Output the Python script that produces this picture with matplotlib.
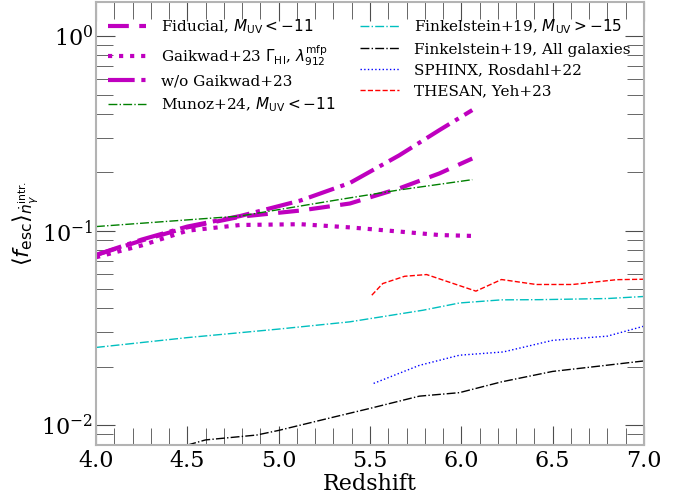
import numpy as np
import matplotlib
matplotlib.use('Agg')
import matplotlib.pyplot as plt

plt.rcParams['font.family'] = 'serif'
plt.rcParams['font.serif'] = ['DejaVu Serif']
plt.rcParams['mathtext.fontset'] = 'dejavusans'

# model curves
z_model = [4.0, 4.25, 4.5, 4.79, 5.12, 5.39, 5.66, 5.88, 6.06]
fid = [0.075, 0.089, 0.104, 0.118, 0.127, 0.138, 0.165, 0.197, 0.235]
gaik = [0.073, 0.084, 0.100, 0.107, 0.108, 0.104, 0.099, 0.095, 0.094]
wo_gaik = [0.075, 0.090, 0.105, 0.119, 0.143, 0.176, 0.244, 0.329, 0.417]

z_munoz = [4.0, 4.79, 5.34, 5.66, 6.06]
munoz = [0.105, 0.119, 0.145, 0.162, 0.183]

# literature
z_fink15 = [4.0, 4.5, 5.0, 5.39, 5.79, 5.99, 6.22, 6.43, 6.8, 7.0]
fink15 = [0.0251, 0.0282, 0.0312, 0.034, 0.039, 0.0425, 0.0441, 0.0442, 0.0448, 0.0459]

z_fink_all = [4.5, 4.6, 4.88, 5.0, 5.3, 5.5, 5.77, 5.99, 6.22, 6.5, 6.75, 7.0]
fink_all = [0.0079, 0.0084, 0.0089, 0.0094, 0.011, 0.0122, 0.0141, 0.0147, 0.0167, 0.0189, 0.0201, 0.0214]

z_sphinx = [5.52, 5.77, 5.99, 6.23, 6.5, 6.8, 7.0]
sphinx = [0.0164, 0.0203, 0.0229, 0.0238, 0.0273, 0.0287, 0.0323]

z_thesan = [5.51, 5.57, 5.69, 5.81, 6.08, 6.22, 6.41, 6.61, 6.85, 7.0]
thesan = [0.0466, 0.0535, 0.0583, 0.0595, 0.0489, 0.0561, 0.0529, 0.0529, 0.056, 0.0563]

fig = plt.figure(figsize=(6.88, 4.94), dpi=100)
ax = fig.add_axes([0.1395, 0.099, 0.7965, 0.897])

ax.plot(z_model, fid, color='m', ls='--', lw=3, dashes=(5, 2.5), label=r'Fiducial, $M_{\rm UV}<-11$')
ax.plot(z_model, gaik, color='m', ls=':', lw=3, label=r'Gaikwad+23 $\Gamma_{\rm HI}$, $\lambda_{912}^{\rm mfp}$')
ax.plot(z_model, wo_gaik, color='m', ls='-.', lw=3, label='w/o Gaikwad+23')
ax.plot(z_munoz, munoz, color='g', ls='-.', lw=1, label=r'Munoz+24, $M_{\rm UV}<-11$')
ax.plot(z_fink15, fink15, color='c', ls='-.', lw=1, label=r'Finkelstein+19, $M_{\rm UV}>-15$')
ax.plot(z_fink_all, fink_all, color='k', ls='-.', lw=1, label='Finkelstein+19, All galaxies')
ax.plot(z_sphinx, sphinx, color='b', ls=':', lw=1, label='SPHINX, Rosdahl+22')
ax.plot(z_thesan, thesan, color='r', ls='--', lw=1, label='THESAN, Yeh+23')

ax.set_yscale('log')
ax.set_xlim(4.0, 7.0)
ax.set_ylim(0.0079, 1.5)
ax.set_xticks([4.0, 4.5, 5.0, 5.5, 6.0, 6.5, 7.0])
ax.xaxis.set_minor_locator(matplotlib.ticker.MultipleLocator(0.1))
ax.tick_params(which='both', direction='in', top=True, right=True, color='0.3')
ax.tick_params(which='major', length=14, labelsize=16)
ax.tick_params(which='minor', length=12)
ax.tick_params(axis='y', pad=2)
for s in ax.spines.values():
    s.set_color('0.7')
    s.set_linewidth(1.5)

ax.set_xlabel('Redshift', fontsize=16, labelpad=1)
ax.set_ylabel(r'$\langle f_{\rm esc} \rangle_{\dot{n}_\gamma^{\rm intr.}}$', fontsize=16, labelpad=0)

ax.legend(loc='upper left', bbox_to_anchor=(-0.006, 1.0), ncol=2, frameon=False, fontsize=11,
          handlelength=2.5, handletextpad=1.0, columnspacing=1.6,
          borderaxespad=0.6, labelspacing=0.45)

fig.savefig('out.png', dpi=100)
